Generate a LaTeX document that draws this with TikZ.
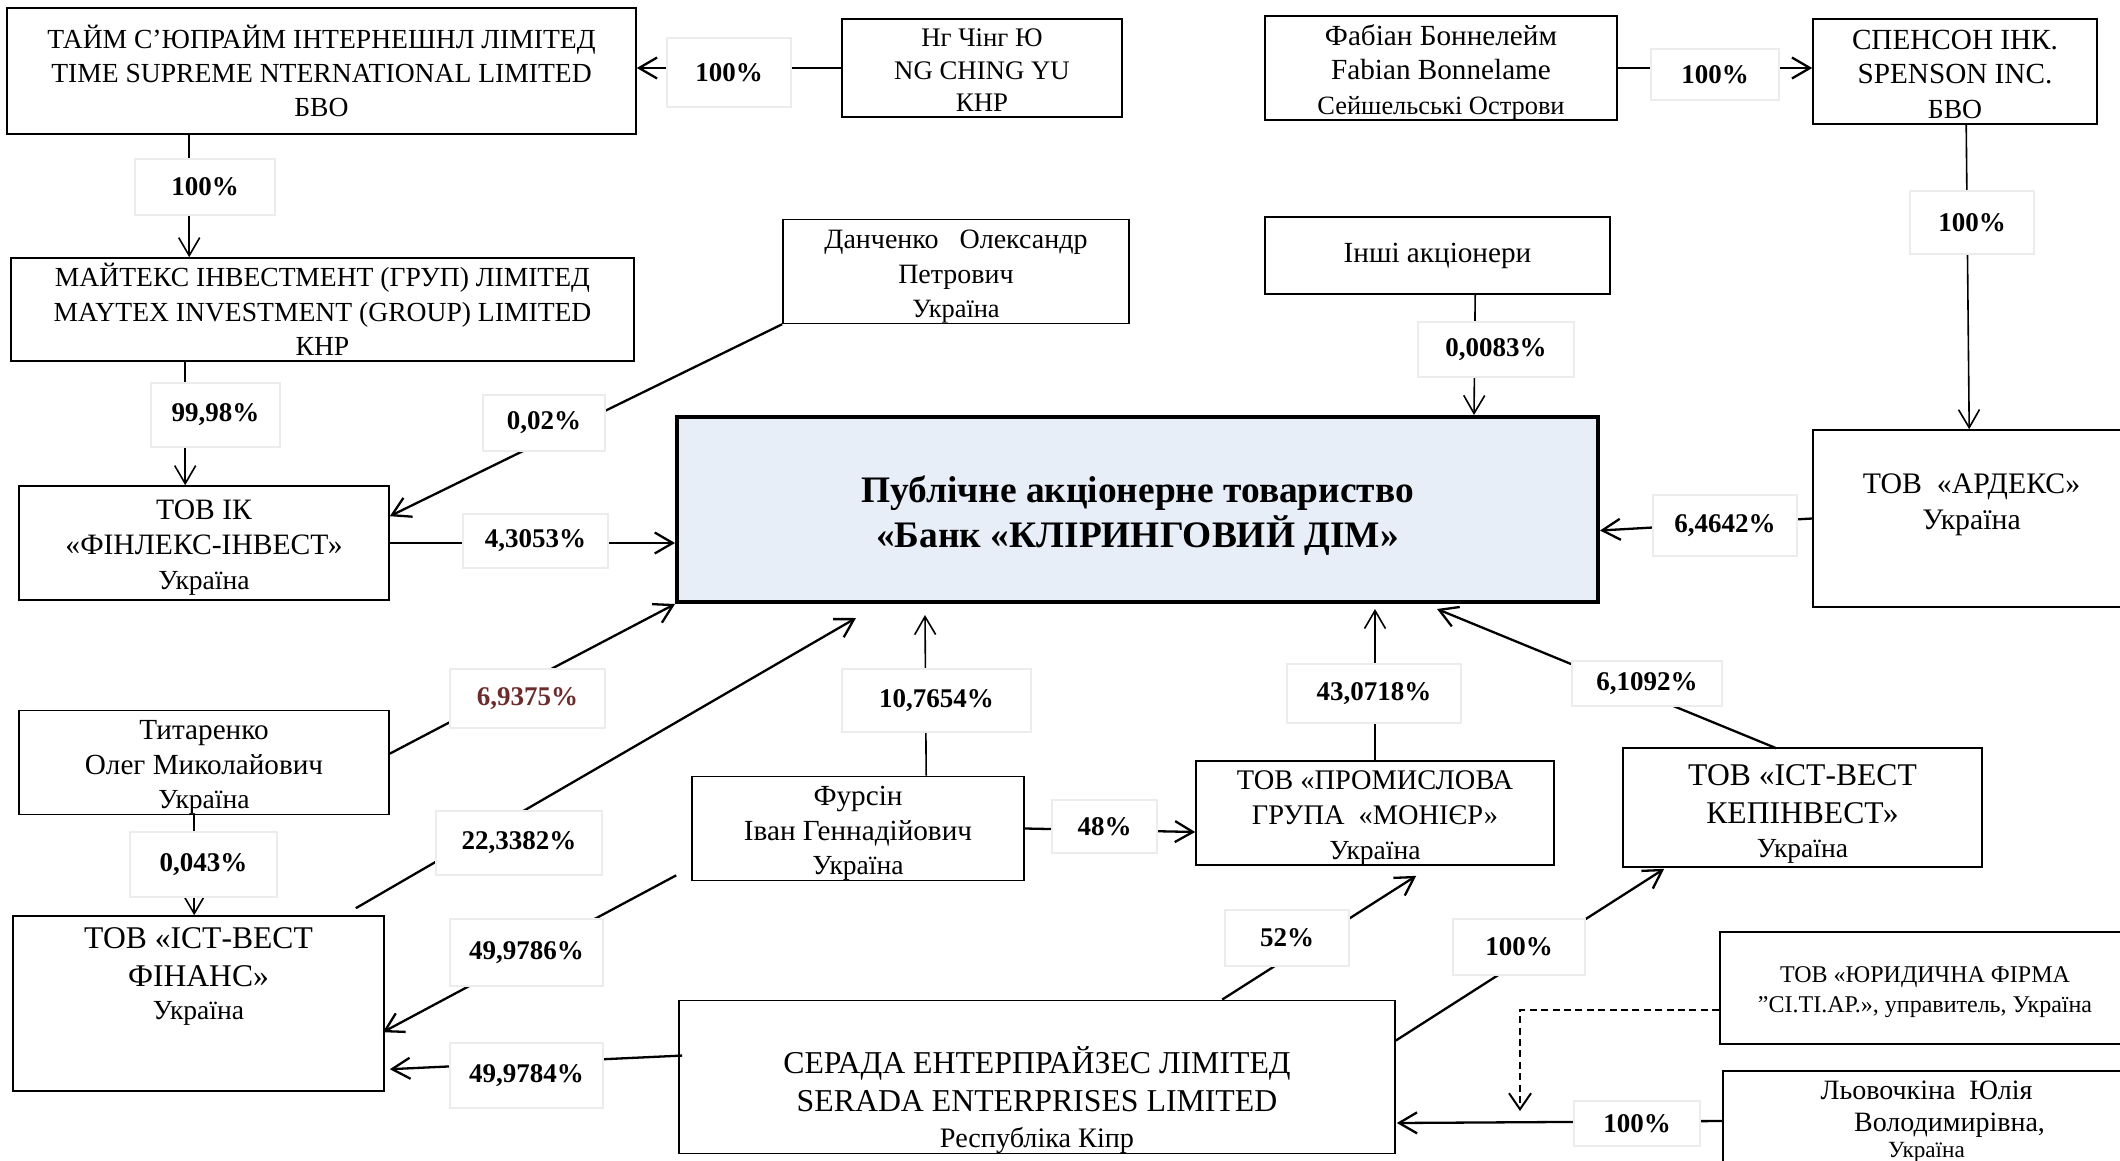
\documentclass[tikz,border=0pt]{standalone}
\usepackage{fontspec}
\setmainfont{Liberation Serif}
\usetikzlibrary{arrows.meta,calc}
\definecolor{bankfill}{HTML}{E7EEF7}
\definecolor{lblline}{HTML}{ECECEC}
\definecolor{redlbl}{HTML}{6E2B2B}
\newcommand\smf{\fontsize{13.8}{17.3}\selectfont}
\newcommand\bgf{\fontsize{15.8}{19}\selectfont}
\newcommand\bs[1][14.5pt]{\rule{0pt}{#1}}
\begin{document}
\begin{tikzpicture}[x=0.5pt,y=-0.5pt,
  box/.style={draw=black, line width=0.8pt, fill=white, align=center, inner sep=0pt,
    font=\fontsize{14.6}{17.3}\selectfont},
  bankbox/.style={draw=black, line width=2pt, fill=bankfill, align=center, inner sep=0pt,
    font=\fontsize{18.7}{22.3}\selectfont\bfseries},
  lbl/.style={draw=lblline, line width=1pt, fill=white, inner sep=0pt,
    font=\fontsize{13.5}{16}\selectfont\bfseries},
  con/.style={line width=1.15pt, -{Straight Barb[length=9pt,width=10.5pt]}},
  thincon/.style={line width=0.8pt, -{Straight Barb[length=9pt,width=10.5pt]}},
  dashcon/.style={line width=1pt, dash pattern=on 3.5pt off 2.2pt, -{Straight Barb[length=8pt,width=11pt]}}
]
\useasboundingbox (0,0) rectangle (2120,1161);

% boxes
\node[box, font=\fontsize{13.8}{16.8}\selectfont, minimum width=314.5pt, minimum height=63pt] (time) at (321.5,71)
  {ТАЙМ С’ЮПРАЙМ ІНТЕРНЕШНЛ ЛІМІТЕД\\TIME SUPREME NTERNATIONAL LIMITED\\БВО};
\node[box, font=\fontsize{13.4}{16.2}\selectfont, minimum width=140pt, minimum height=49pt] (ng) at (982,68)
  {\bs[11pt]Нг Чінг Ю\\NG CHING YU\\КНР};
\node[box, font=\fontsize{13.8}{17.3}\selectfont, minimum width=311.5pt, minimum height=51.5pt] (maytex) at (322.5,309.5)
  {МАЙТЕКС ІНВЕСТМЕНТ (ГРУП) ЛІМІТЕД\\MAYTEX INVESTMENT (GROUP) LIMITED\\КНР};
\node[box, font=\fontsize{14}{17.3}\selectfont, minimum width=173pt, minimum height=51.5pt] (danch) at (956,271.5)
  {\bs Данченко\ \ \ Олександр\\Петрович\\{\fontsize{13.2}{17}\selectfont Україна}};
\node[box, minimum width=176pt, minimum height=52pt] (fabian) at (1441,68)
  {\bs Фабіан Боннелейм\\Fabian Bonnelame\\{\fontsize{13.2}{17}\selectfont Сейшельські Острови}};
\node[box, minimum width=142pt, minimum height=52.5pt] (spenson) at (1955,71.5)
  {\bs[12.5pt]СПЕНСОН ІНК.\\SPENSON INC.\\{\smf БВО}};
\node[box, minimum width=172.5pt, minimum height=38.5pt] (other) at (1437.5,255.5)
  {Інші акціонери};
\node[box, font=\fontsize{14.8}{17.3}\selectfont, minimum width=185pt, minimum height=57pt] (finlex) at (204,543)
  {\bs ТОВ ІК\\«ФІНЛЕКС-ІНВЕСТ»\\{\smf Україна}};
\node[bankbox, minimum width=460.5pt, minimum height=92.5pt] (bank) at (1137.5,509.5)
  {\bs[19.3pt]Публічне акціонерне товариство\\«Банк «КЛІРИНГОВИЙ ДІМ»};
\node[box, font=\fontsize{14.9}{18}\selectfont, minimum width=158.5pt, minimum height=88.5pt, text depth=21.9pt] (ardex) at (1971.5,518.5)
  {\bs ТОВ\ \ «АРДЕКС»\\Україна};
\node[box, minimum width=185pt, minimum height=51.5pt] (titar) at (204,762.5)
  {\bs Титаренко\\Олег Миколайович\\{\smf Україна}};
\node[box, font=\bgf, minimum width=185.5pt, minimum height=87.5pt, text depth=34pt] (istfin) at (198.5,1003.5)
  {\bs ТОВ «ІСТ-ВЕСТ\\ФІНАНС»\\[-2.5pt]{\smf Україна}};
\node[box, minimum width=166pt, minimum height=51.5pt] (fursin) at (858,828.5)
  {\bs Фурсін\\Іван Геннадійович\\{\smf Україна}};
\node[box, font=\fontsize{14.2}{17.3}\selectfont, minimum width=179pt, minimum height=52pt] (monier) at (1375,813)
  {\bs ТОВ «ПРОМИСЛОВА\\ГРУПА\ \ «МОНІЄР»\\{\smf Україна}};
\node[box, font=\bgf, minimum width=179.5pt, minimum height=59.5pt] (kepin) at (1802.5,807.5)
  {\bs[17pt]ТОВ «ІСТ-ВЕСТ\\КЕПІНВЕСТ»\\[-2pt]{\smf Україна}};
\node[box, font=\fontsize{15.9}{19}\selectfont, minimum width=358pt, minimum height=75pt] (serada) at (1037,1077)
  {\bs[36.6pt]СЕРАДА ЕНТЕРПРАЙЗЕС ЛІМІТЕД\\SERADA ENTERPRISES LIMITED\\[-1pt]{\fontsize{14.1}{18}\selectfont Республіка Кіпр}};
\node[box, minimum width=205pt, minimum height=56pt, font=\fontsize{12}{15}\selectfont] (sitiar) at (1925,988)
  {\bs[12pt]ТОВ «ЮРИДИЧНА ФІРМА\\\symbol{"22}СІ.ТІ.АР.»,  управитель, Україна};
\node[box, minimum width=203.5pt, minimum height=50pt, font=\fontsize{14}{16}\selectfont] (lovo) at (1926.5,1121)
  {\bs[10pt]Льовочкіна\ \ Юлія\\\hspace*{23pt}Володимирівна,\\[-3pt]{\fontsize{11.6}{15}\selectfont Україна}};

\coordinate (dashend) at (1520,1111);

% connectors
\draw[con] (ng.west) -- (ng.west -| time.east);
\draw[thincon] ($(time.south west)+(183,0)$) -- ($(maytex.north west)+(179,0)$);
\draw[thincon] ($(maytex.south west)+(175,0)$) -- ($(finlex.north west)+(167,0)$);
\draw[con] (danch.south west) -- ($(finlex.north east)+(0,31)$);
\draw[con] (finlex.east) -- (finlex.east -| bank.west);
\draw[thincon] ($(other.south west)+(211,0)$) -- ($(bank.north west)+(799,0)$);
\draw[con] (fabian.east) -- (fabian.east -| spenson.west);
\draw[thincon] ($(spenson.south west)+(154,0)$) -- ($(ardex.north west)+(157,0)$);
\draw[con] (ardex.west) -- ($(bank.east)+(0,21)$);
\draw[con] ($(titar.north east)+(0,44)$) -- (bank.south west);
\draw[con] ($(istfin.north east)+(-29,-7)$) -- ($(bank.south west)+(181,14)$);
\draw[thincon] ($(fursin.north west)+(235,0)$) -- ($(bank.south west)+(250,11)$);
\draw[thincon] (monier.north) -- ($(monier.north |- bank.south)+(0,5)$);
\draw[con] ($(kepin.north west)+(154,1)$) -- ($(bank.south west)+(762,5)$);
\draw[thincon] ($(titar.south west)+(176,0)$) -- ($(istfin.north west)+(182,0)$);
\draw[con] ($(fursin.south west)+(-15,-6)$) -- ($(istfin.north east)+(-2,117)$);
\draw[con] ($(serada.north west)+(4,56)$) -- ($(istfin.north east)+(5,154)$);
\draw[con] (fursin.east) -- ($(monier.west)+(0,19)$);
\draw[con] ($(serada.north west)+(544,0)$) -- ($(monier.south west)+(221,10)$);
\draw[con] ($(serada.north east)+(0,41)$) -- ($(kepin.south west)+(42,1)$);
\draw[dashcon] ($(sitiar.north west)+(0,79)$) -| (dashend);
\draw[con] (lovo.west) -- ($(serada.east)+(1,46)$);

% labels
\node[lbl, minimum width=62pt, minimum height=34.5pt] (l1) at (729,72.5) {100\%};
\node[lbl, minimum width=70pt, minimum height=28pt] (l2) at (205,187) {100\%};
\node[lbl, minimum width=64.5pt, minimum height=32pt] (l3) at (215.5,415) {99,98\%};
\node[lbl, minimum width=61pt, minimum height=28pt] (l4) at (544,423) {0,02\%};
\node[lbl, minimum width=72.5pt, minimum height=27pt] (l5) at (535.5,541) {4,3053\%};
\node[lbl, minimum width=64pt, minimum height=25.5pt] (l6) at (1715,74.5) {100\%};
\node[lbl, minimum width=62pt, minimum height=31.5pt] (l7) at (1972,222.5) {100\%};
\node[lbl, minimum width=78pt, minimum height=27.5pt] (l8) at (1496,349.5) {0,0083\%};
\node[lbl, minimum width=72pt, minimum height=30.5pt] (l9) at (1725,525.5) {6,4642\%};
\node[lbl, minimum width=77.5pt, minimum height=29.5pt, text=redlbl] (l10) at (527.5,698.5) {6,9375\%};
\node[lbl, minimum width=94.5pt, minimum height=31.5pt] (l11) at (936.5,700.5) {10,7654\%};
\node[lbl, minimum width=87pt, minimum height=29.5pt] (l12) at (1374,693.5) {43,0718\%};
\node[lbl, minimum width=75pt, minimum height=22.5pt] (l13) at (1647,683.5) {6,1092\%};
\node[lbl, minimum width=83pt, minimum height=32pt] (l14) at (519,843) {22,3382\%};
\node[lbl, minimum width=73.5pt, minimum height=32.5pt] (l15) at (203.5,864.5) {0,043\%};
\node[lbl, minimum width=52.5pt, minimum height=26.5pt] (l16) at (1104.5,826.5) {48\%};
\node[lbl, minimum width=76.5pt, minimum height=33.5pt] (l17) at (526.5,952.5) {49,9786\%};
\node[lbl, minimum width=76.5pt, minimum height=32.5pt] (l18) at (526.5,1075.5) {49,9784\%};
\node[lbl, minimum width=62pt, minimum height=28pt] (l19) at (1287,938) {52\%};
\node[lbl, minimum width=66pt, minimum height=28pt] (l20) at (1519,947) {100\%};
\node[lbl, minimum width=63pt, minimum height=22.5pt] (l21) at (1637,1123.5) {100\%};
\end{tikzpicture}
\end{document}
